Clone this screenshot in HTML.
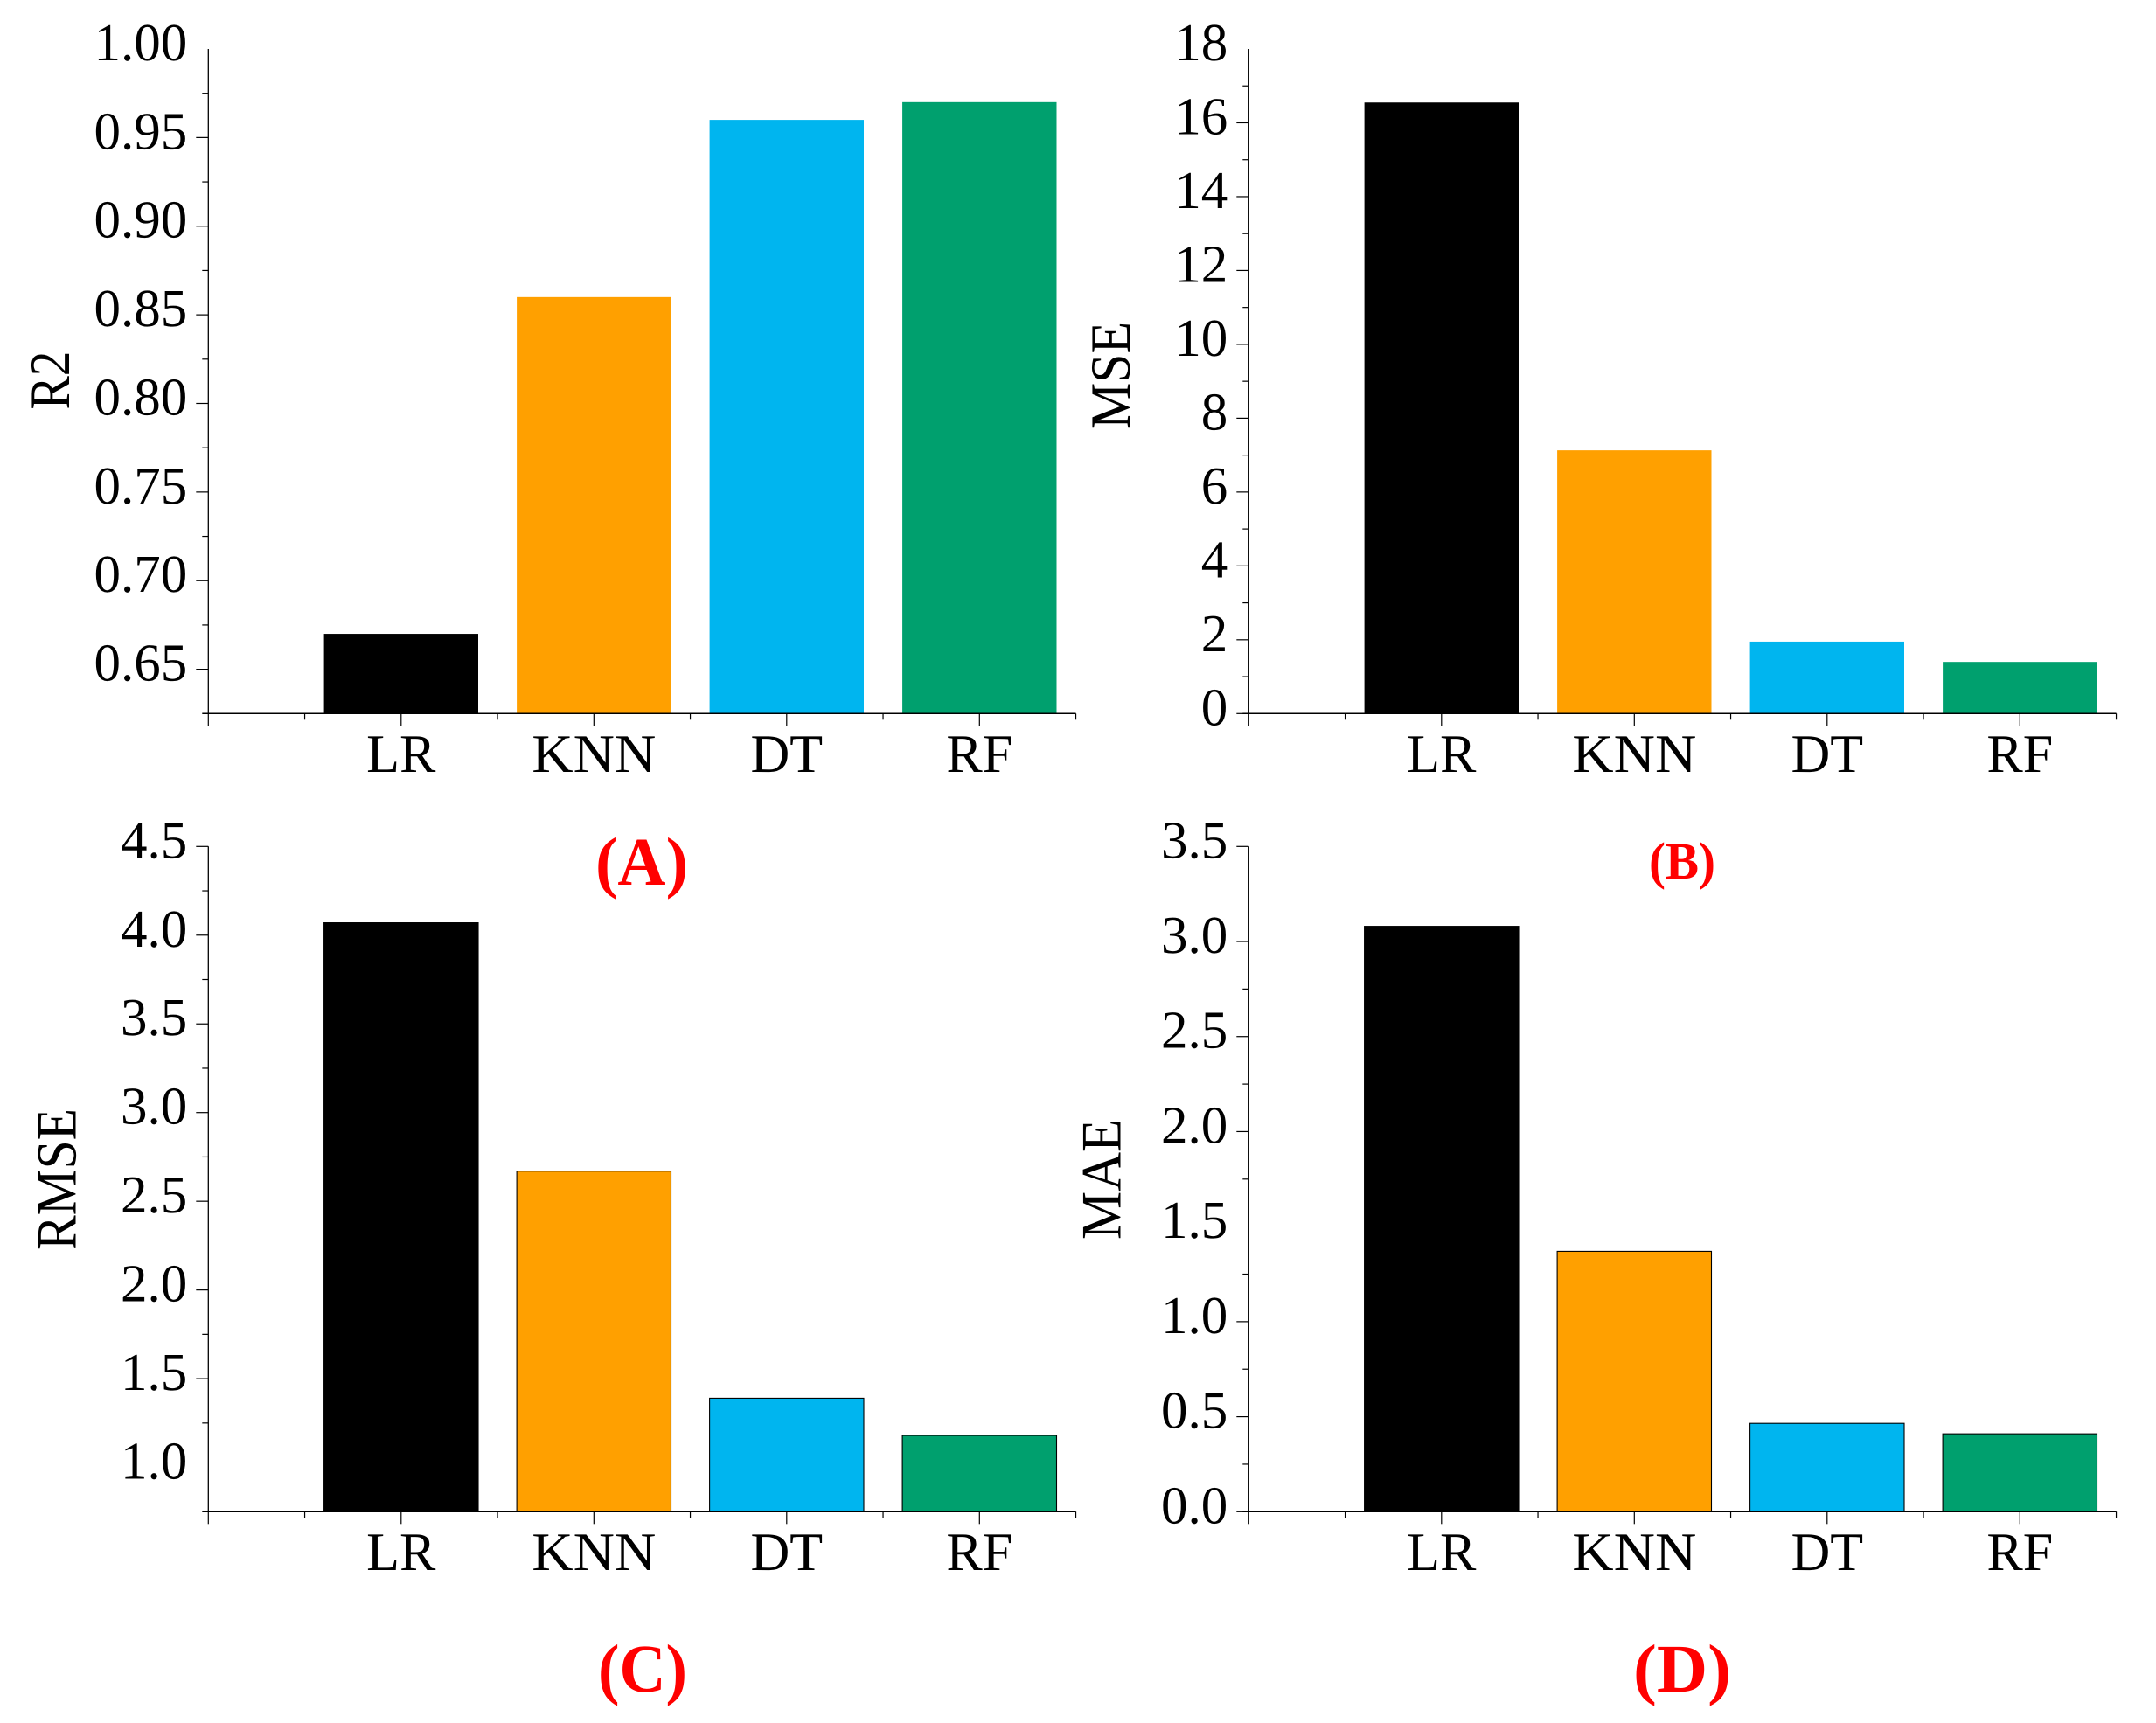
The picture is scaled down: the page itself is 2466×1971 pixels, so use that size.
<!DOCTYPE html>
<html lang="en">
<head>
<meta charset="utf-8">
<title>Model comparison bar charts</title>
<style>
  html, body { margin: 0; padding: 0; background: #fff; }
  svg { display: block; }
  text { font-family: "Liberation Serif", "DejaVu Serif", serif; fill: #000; text-rendering: geometricPrecision; }
  .tick-label { font-size: 61px; text-anchor: end; }
  .cat-label { font-size: 62px; text-anchor: middle; }
  .axis-title { font-size: 65px; text-anchor: middle; }
  .panel-label { font-weight: bold; text-anchor: middle; fill: #ff0000; }
</style>
</head>
<body>
<svg id="chart" xmlns="http://www.w3.org/2000/svg" width="2466" height="1971" viewBox="0 0 2466 1971">
  <rect x="0" y="0" width="2466" height="1971" fill="#ffffff"/>
  <text class="axis-title" transform="translate(79,435) rotate(-90)" textLength="67" lengthAdjust="spacingAndGlyphs">R2</text>
  <text class="axis-title" transform="translate(1292,429.5) rotate(-90)" textLength="123" lengthAdjust="spacingAndGlyphs">MSE</text>
  <text class="axis-title" transform="translate(86.5,1349) rotate(-90)" textLength="162" lengthAdjust="spacingAndGlyphs">RMSE</text>
  <text class="axis-title" transform="translate(1281.5,1349) rotate(-90)" textLength="138" lengthAdjust="spacingAndGlyphs">MAE</text>
  <text class="panel-label" x="734" y="1012" font-size="78" textLength="106" lengthAdjust="spacingAndGlyphs">(A)</text>
  <text class="panel-label" x="1924" y="1005" font-size="60" textLength="76" lengthAdjust="spacingAndGlyphs">(B)</text>
  <text class="panel-label" x="735" y="1935" font-size="78" textLength="102" lengthAdjust="spacingAndGlyphs">(C)</text>
  <text class="panel-label" x="1924" y="1935" font-size="78" textLength="112" lengthAdjust="spacingAndGlyphs">(D)</text>
  <g id="plots"></g>
</svg>
<script>
const categories = ['LR', 'KNN', 'DT', 'RF'];
const barColors = ['#000000', '#ffa000', '#00b5ef', '#00a06e'];

const r2Values = [0.67, 0.86, 0.96, 0.97];
const mseValues = [16.55, 7.13, 1.95, 1.4];
const rmseValues = [4.07, 2.67, 1.39, 1.18];
const maeValues = [3.08, 1.37, 0.465, 0.41];

const r2TickLabels = ['1.00', '0.95', '0.90', '0.85', '0.80', '0.75', '0.70', '0.65'];
const mseTickLabels = ['18', '16', '14', '12', '10', '8', '6', '4', '2', '0'];
const rmseTickLabels = ['4.5', '4.0', '3.5', '3.0', '2.5', '2.0', '1.5', '1.0'];
const maeTickLabels = ['3.5', '3.0', '2.5', '2.0', '1.5', '1.0', '0.5', '0.0'];

const r2Range = [0.625, 1.0];
const mseRange = [0, 18];
const rmseRange = [0.75, 4.5];
const maeRange = [0, 3.5];

const r2TickStep = [0.05];
const mseTickStep = [2];
const rmseTickStep = [0.5];
const maeTickStep = [0.5];

const r2HiddenTicks = [1.0];
const mseHiddenTicks = [18];
const rmseHiddenTicks = [1.0, 2.25];
const maeHiddenTicks = [1.5, 3.25];

const NS = 'http://www.w3.org/2000/svg';
const plots = document.getElementById('plots');

function svgEl(parent, tag, attrs, text) {
  const el = document.createElementNS(NS, tag);
  for (const k in attrs) el.setAttribute(k, attrs[k]);
  if (text !== undefined) el.textContent = text;
  parent.appendChild(el);
  return el;
}

function isHidden(list, v) {
  return list.some(function (h) { return Math.abs(h - v) < 1e-6; });
}

function drawPanel(name, left, top, bottom, range, step, tickLabels, hidden, values, outlined) {
  const unitX = 220.5;
  const xScale = function (c) { return left + c * unitX; };
  const yScale = function (v) { return bottom - (v - range[0]) / (range[1] - range[0]) * (bottom - top); };

  const g = svgEl(plots, 'g', {});
  
  

  values.forEach(function (v, i) {
    const cx = xScale(i + 1);
    const w = 0.8 * unitX;
    const attrs = { x: cx - w / 2, y: yScale(v), width: w, height: bottom - yScale(v), fill: barColors[i] };
    if (outlined) { attrs.stroke = '#000000'; attrs['stroke-width'] = 1.1; }
    const bar = svgEl(g, 'rect', attrs);
    
    
  });

  const yAxis = svgEl(g, 'line', { x1: left, x2: left, y1: top, y2: bottom, stroke: '#000', 'stroke-width': 1.3 });
  
  

  const xAxis = svgEl(g, 'line', { x1: left - 7, x2: xScale(4.5), y1: bottom, y2: bottom, stroke: '#000', 'stroke-width': 1.5 });
  
  

  tickLabels.forEach(function (lab) {
    const v = parseFloat(lab);
    const y = yScale(v);
    if (!isHidden(hidden, v)) {
      const major = svgEl(g, 'line', { x1: left - 14, x2: left, y1: y, y2: y, stroke: '#000', 'stroke-width': 1.2 });
      
      
    }
    const t = svgEl(g, 'text', { class: 'tick-label', x: left - 24, y: y + 13 }, lab);
    
    

    const minorV = v - step[0] / 2;
    if (minorV > range[0] + 1e-6 && !isHidden(hidden, minorV)) {
      const my = yScale(minorV);
      const minor = svgEl(g, 'line', { x1: left - 7, x2: left, y1: my, y2: my, stroke: '#000', 'stroke-width': 1.2 });
      
      
    }
  });

  for (let k = 0; k <= 9; k++) {
    const x = xScale(k / 2);
    const isMajor = k % 2 === 0;
    const xt = svgEl(g, 'line', { x1: x, x2: x, y1: bottom, y2: bottom + (isMajor ? 14 : 7), stroke: '#000', 'stroke-width': 1.2 });
    
    
  }

  categories.forEach(function (c, i) {
    const t = svgEl(g, 'text', { class: 'cat-label', x: xScale(i + 1), y: bottom + 66.5 }, c);
    
    
    if (c.length === 3) {
      t.setAttribute('textLength', '142');
      t.setAttribute('lengthAdjust', 'spacingAndGlyphs');
    }
  });
}

drawPanel('r2', 238.3, 56, 816.3, r2Range, r2TickStep, r2TickLabels, r2HiddenTicks, r2Values, false);
drawPanel('mse', 1428.3, 56, 816.3, mseRange, mseTickStep, mseTickLabels, mseHiddenTicks, mseValues, false);
drawPanel('rmse', 238.3, 968.3, 1729.3, rmseRange, rmseTickStep, rmseTickLabels, rmseHiddenTicks, rmseValues, true);
drawPanel('mae', 1428.3, 968.3, 1729.3, maeRange, maeTickStep, maeTickLabels, maeHiddenTicks, maeValues, true);
</script>
</body>
</html>
